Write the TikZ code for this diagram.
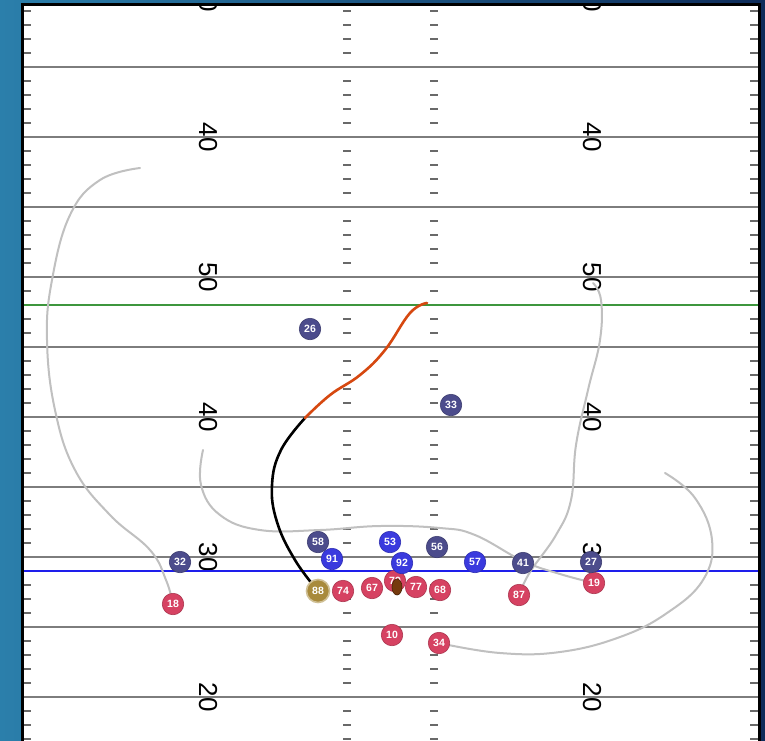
\documentclass[tikz,border=0pt]{standalone}
\usepackage{fontspec}
\setmainfont{Liberation Sans}
\usetikzlibrary{shapes.geometric}
\definecolor{bgleft}{RGB}{43,127,171}
\definecolor{bgright}{RGB}{14,44,90}
\definecolor{yardgray}{RGB}{125,125,125}
\definecolor{tickgray}{RGB}{105,105,105}
\definecolor{firstgreen}{RGB}{61,150,61}
\definecolor{scrimblue}{RGB}{30,30,235}
\definecolor{offred}{RGB}{214,66,98}
\definecolor{defnavy}{RGB}{76,76,140}
\definecolor{defblue}{RGB}{58,58,222}
\definecolor{carrgold}{RGB}{168,138,60}
\definecolor{routegray}{RGB}{192,192,192}
\definecolor{runorange}{RGB}{214,72,16}
\definecolor{ballbrown}{RGB}{118,58,14}
\pgfdeclarelayer{back}
\pgfdeclarelayer{mid}
\pgfsetlayers{back,mid,main}
\tikzset{
  player/.style={circle,minimum size=21.5pt,inner sep=0pt,text=white,font=\fontsize{10.5}{10.5}\selectfont\bfseries},
  off/.style={player,fill=offred,draw=offred!80!black,line width=0.6pt},
  def/.style={player,fill=defnavy,draw=defnavy!80!black,line width=0.6pt},
  rush/.style={player,fill=defblue,draw=defblue!80!black,line width=0.6pt},
  carrier/.style={player,minimum size=23pt,fill=carrgold,draw=carrgold!55!white,line width=1.6pt},
  ballshape/.style={ellipse,minimum width=10pt,minimum height=16pt,inner sep=0pt,fill=ballbrown,draw=ballbrown!60!black,line width=0.6pt},
  yardnum/.style={rotate=-90,inner sep=0pt,font=\fontsize{26}{26}\selectfont},
  yardline/.style={yardgray,line width=1.4pt},
  tick/.style={tickgray,line width=1.4pt},
  route/.style={routegray,line width=2pt,line cap=round},
}
\begin{document}
\begin{tikzpicture}[x=1pt,y=-1pt]
  \useasboundingbox (0,0) rectangle (765,740);
  \begin{pgfonlayer}{back}
    \shade[left color=bgleft,right color=bgright] (0,0) rectangle (765,740);
    \fill[white] (22,4) rectangle (759,745);
    \begin{scope}
      \clip (22,4) rectangle (759,745);
      \foreach \i in {0,...,52} {
        \pgfmathsetmacro\ty{11+14*\i}
        \draw[tick] (23,\ty) -- (31,\ty);
        \draw[tick] (343,\ty) -- (351,\ty);
        \draw[tick] (430,\ty) -- (438,\ty);
        \draw[tick] (750,\ty) -- (758,\ty);
      }
      \foreach \k in {0,...,9} {
        \pgfmathsetmacro\ly{67+70*\k}
        \draw[yardline] (22,\ly) -- (759,\ly);
      }
      \foreach \ny/\num [count=\n] in {-3/30,137/40,277/50,417/40,557/30,697/20} {
        \node[yardnum] (numl\n) at (208,\ny) {\num};
        \node[yardnum] (numr\n) at (592,\ny) {\num};
      }
      \draw[firstgreen,line width=2pt] (22,305) -- (759,305);
      \draw[scrimblue,line width=2pt] (22,571) -- (759,571);
    \end{scope}
    \draw[black,line width=3pt] (22,745) -- (22,4) -- (759,4) -- (759,745);
  \end{pgfonlayer}

  \node[off] (p18) at (173,604) {18};
  \node[off] (p74) at (343,591) {74};
  \node[off] (p67) at (372,588) {67};
  \node[off] (p79) at (395,581) {79};
  \node[off] (p77) at (416,587) {77};
  \node[off] (p68) at (440,590) {68};
  \node[off] (p87) at (519,595) {87};
  \node[off] (p19) at (594,583) {19};
  \node[off] (p10) at (392,635) {10};
  \node[off] (p34) at (439,643) {34};
  \node[carrier] (p88) at (318,591) {88};
  \node[def] (p26) at (310,329) {26};
  \node[def] (p33) at (451,405) {33};
  \node[def] (p32) at (180,562) {32};
  \node[def] (p58) at (318,542) {58};
  \node[def] (p56) at (437,547) {56};
  \node[def] (p41) at (523,563) {41};
  \node[def] (p27) at (591,562) {27};
  \node[rush] (p91) at (332,559) {91};
  \node[rush] (p53) at (390,542) {53};
  \node[rush] (p92) at (402,563) {92};
  \node[rush] (p57) at (475,562) {57};
  \node[ballshape] (ball) at (397,587) {};
  \coordinate (turn) at (305,418);

  \begin{pgfonlayer}{mid}
    \draw[route] plot[smooth,tension=0.7] coordinates {(140,168) (100,180) (70,215) (52,280) (47,340) (55,410) (75,470) (110,515) (150,550) (166,580) (p18)};
    \draw[route] plot[smooth,tension=0.7] coordinates {(203,450) (201,485) (220,515) (260,530) (320,530) (380,526) (440,528) (475,535) (523,561) (560,574) (p19)};
    \draw[route] plot[smooth,tension=0.7] coordinates {(665,473) (695,498) (712,540) (703,580) (667,613) (620,637) (560,652) (500,653) (p34)};
    \draw[route] plot[smooth,tension=0.7] coordinates {(p87) (530,572) (556,535) (571,500) (576,445) (588,390) (600,340) (601,300) (593,283)};
    \draw[black,line width=2.6pt] plot[smooth,tension=0.7] coordinates {(p88) (295,560) (277,522) (272,485) (281,450) (turn)};
    \draw[runorange,line width=2.6pt,line cap=round] plot[smooth,tension=0.7] coordinates {(turn) (330,395) (360,375) (385,350) (410,313) (427,303)};
  \end{pgfonlayer}
\end{tikzpicture}
\end{document}
